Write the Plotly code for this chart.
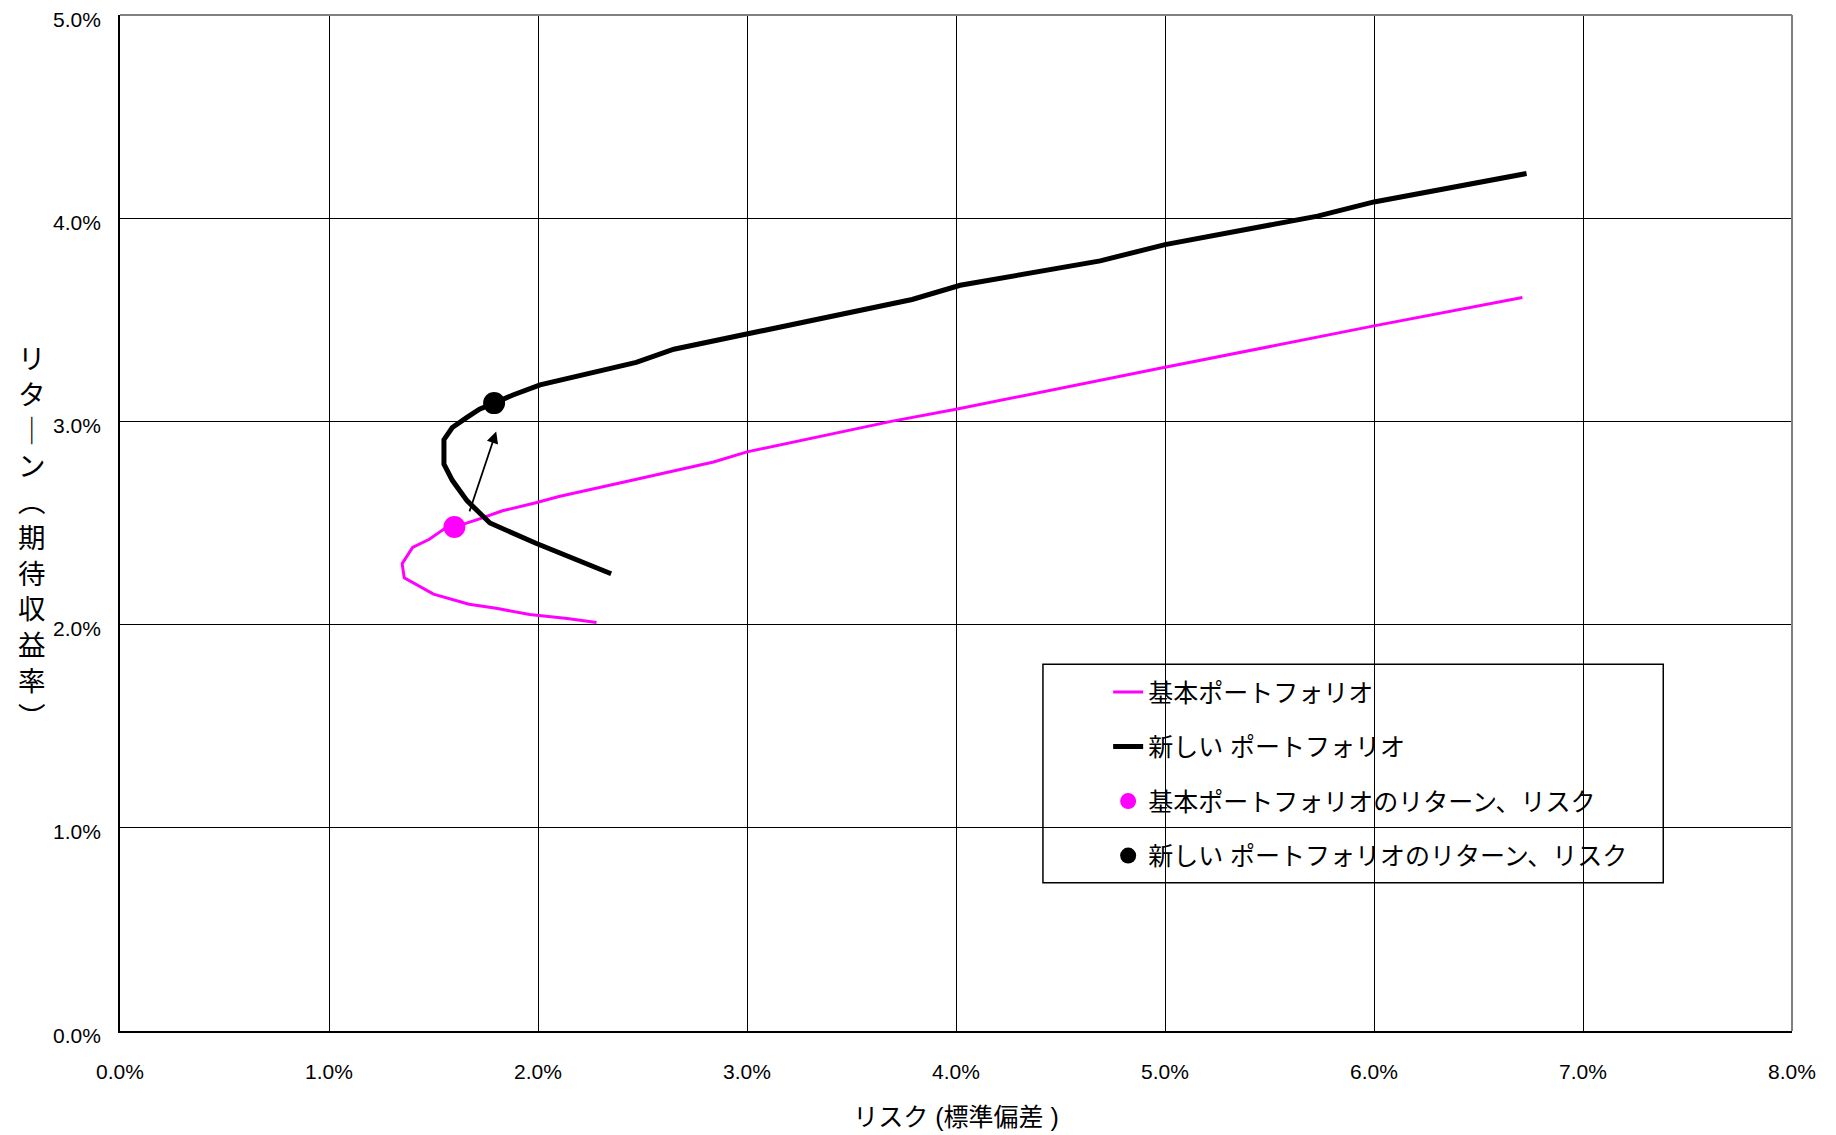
import plotly.graph_objects as go

# Data (percent)
base_risk = [2.28, 2.14, 1.96, 1.80, 1.67, 1.50, 1.36, 1.35, 1.40, 1.48, 1.55, 1.60, 1.72, 1.83, 1.99,
             2.10, 2.45, 2.84, 3.00, 3.69, 4.00, 4.69, 4.97, 6.00, 6.71]
base_ret = [2.01, 2.03, 2.05, 2.08, 2.10, 2.15, 2.23, 2.30, 2.38, 2.42, 2.47, 2.48, 2.52, 2.56, 2.60,
            2.63, 2.71, 2.80, 2.85, 3.00, 3.06, 3.20, 3.26, 3.47, 3.61]

new_risk = [2.35, 1.99, 1.77, 1.66, 1.59, 1.55, 1.55, 1.59, 1.66, 1.72, 1.79, 1.88, 2.01, 2.47,
            2.65, 3.00, 3.79, 4.02, 4.69, 5.00, 5.73, 6.00, 6.73]
new_ret = [2.25, 2.40, 2.50, 2.61, 2.71, 2.79, 2.91, 2.97, 3.02, 3.06, 3.09, 3.13, 3.18, 3.29,
           3.355, 3.43, 3.60, 3.67, 3.79, 3.87, 4.01, 4.08, 4.22]

base_point = (1.60, 2.48)
new_point = (1.79, 3.09)

x_ticks = [0, 1, 2, 3, 4, 5, 6, 7, 8]
y_ticks = [0, 1, 2, 3, 4, 5]
x_labels = [f"{v:.1f}%" for v in x_ticks]
y_labels = [f"{v:.1f}%" for v in y_ticks]

names = ["基本ポートフォリオ", "新しい ポートフォリオ",
         "基本ポートフォリオのリターン、リスク", "新しい ポートフォリオのリターン、リスク"]
x_title = "リスク (標準偏差 )"
y_title_chars = ["リ", "タ", "｜", "ン", "︵", "期", "待", "収", "益", "率", "︶"]

MAGENTA = "#FF00FF"
NUM_FONT = "Liberation Sans, Arial, sans-serif"
CJK_FONT = "Liberation Sans, Noto Sans CJK JP, sans-serif"

fig = go.Figure()
fig.add_trace(go.Scatter(x=base_risk, y=base_ret, mode="lines", name=names[0],
                         line=dict(color=MAGENTA, width=3), legendgroup="a"))
fig.add_trace(go.Scatter(x=new_risk, y=new_ret, mode="lines", name=names[1],
                         line=dict(color="black", width=5), legendgroup="b"))
fig.add_trace(go.Scatter(x=[base_point[0]], y=[base_point[1]], mode="markers", name=names[2],
                         marker=dict(color=MAGENTA, size=22), legendgroup="c"))
fig.add_trace(go.Scatter(x=[new_point[0]], y=[new_point[1]], mode="markers", name=names[3],
                         marker=dict(color="black", size=22), legendgroup="d"))

fig.add_annotation(x=1.80, y=2.95, ax=1.67, ay=2.55, xref="x", yref="y", axref="x", ayref="y",
                   showarrow=True, arrowhead=2, arrowsize=1.3, arrowwidth=1.8, arrowcolor="black", text="")

# y tick labels (slightly below gridlines, as in the reference)
for v, lab in zip(y_ticks, y_labels):
    fig.add_annotation(x=0, y=v, xref="paper", yref="y", text=lab, showarrow=False,
                       xanchor="right", yanchor="middle", xshift=-17, yshift=-4,
                       font=dict(family=NUM_FONT, size=21, color="black"))

fig.add_annotation(text="<br>".join(y_title_chars), xref="paper", yref="paper",
                   x=-0.0526, y=0.485, xanchor="center", yanchor="middle", showarrow=False,
                   font=dict(family=CJK_FONT, size=27.5, color="black"), align="center")

# grey top/right borders
fig.add_shape(type="line", xref="paper", yref="paper", x0=0, x1=1, y0=1, y1=1,
              line=dict(color="#808080", width=2))
fig.add_shape(type="line", xref="paper", yref="paper", x0=1, x1=1, y0=0, y1=1,
              line=dict(color="#808080", width=2))
# legend box
fig.add_shape(type="rect", xref="paper", yref="paper", x0=0.552, x1=0.923, y0=0.146, y1=0.361,
              line=dict(color="black", width=1.5), fillcolor="white", layer="below")

fig.update_layout(
    width=1836, height=1135,
    margin=dict(l=112, r=52, t=7, b=112, autoexpand=False),
    paper_bgcolor="white", plot_bgcolor="white",
    showlegend=True,
    legend=dict(x=0.591, y=0.356, xanchor="left", yanchor="top",
                font=dict(family=CJK_FONT, size=25, color="black"),
                bgcolor="rgba(0,0,0,0)", borderwidth=0,
                traceorder="grouped", tracegroupgap=19),
    xaxis=dict(range=[0, 8], tickvals=x_ticks, ticktext=x_labels, automargin=False,
               showgrid=True, gridcolor="black", gridwidth=1,
               showline=True, linecolor="black", linewidth=2,
               ticks="", ticklabelstandoff=21, zeroline=False, ticklabeloverflow="allow",
               tickfont=dict(family=NUM_FONT, size=21, color="black"),
               title=dict(text=x_title, font=dict(family=CJK_FONT, size=25, color="black"), standoff=26)),
    yaxis=dict(range=[0, 5], tickvals=y_ticks, showticklabels=False, automargin=False,
               showgrid=True, gridcolor="black", gridwidth=1,
               showline=True, linecolor="black", linewidth=2,
               ticks="", zeroline=False),
)

fig.write_html("out.html")
